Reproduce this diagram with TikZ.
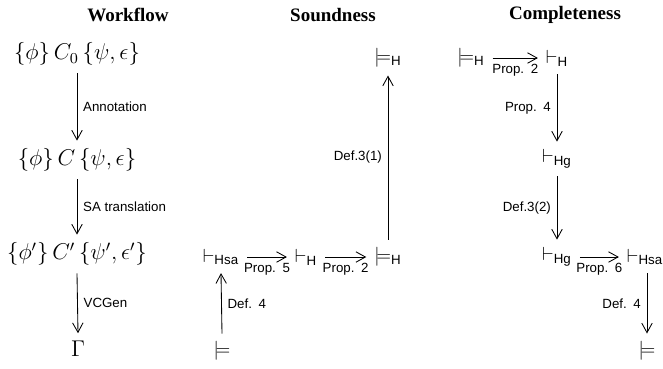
\documentclass[tikz,border=0pt]{standalone}
\usepackage{amsmath,amssymb}
\usepackage{fontspec}
\newfontfamily\titlefont{Liberation Serif}
\newfontfamily\labelfont{Liberation Sans}
\usepackage{tikz}
\usetikzlibrary{arrows.meta, positioning}

\newcommand{\sys}[1]{\text{\labelfont #1}}

\begin{document}
\begin{tikzpicture}[
    x=0.526pt, y=-0.526pt,
    colhead/.style={font=\titlefont\bfseries},
    stmt/.style={inner sep=4pt},
    prog/.style={stmt, font=\large},
    flow/.style={line width=0.45pt, -{Straight Barb[length=5pt,width=5.5pt]}},
    lbl/.style={font=\labelfont\scriptsize, inner sep=3pt}
]
    \useasboundingbox (0,0) rectangle (663,368);

    % Column headings
    \node (wfhead) [colhead] at (128,15) {Workflow};
    \node (sdhead) [colhead] at (333,15) {Soundness};
    \node (cphead) [colhead] at (565,15) {Completeness};

    % Workflow
    \node (prog0) [prog] at (77,54)  {$\{\phi\}\,C_0\,\{\psi,\epsilon\}$};
    \node (prog1) [prog] at (77,160) {$\{\phi\}\,C\,\{\psi,\epsilon\}$};
    \node (prog2) [prog] at (77,254) {$\{\phi'\}\,C'\,\{\psi',\epsilon'\}$};
    \node (vcs)   [prog] at (78,349) {$\Gamma$};

    \draw [flow] (prog0.south) -- (prog1.north) node[midway, right, lbl] {Annotation};
    \draw [flow] (prog1.south) -- (prog2.north) node[midway, right, lbl] {SA translation};
    \draw [flow] (prog2.south) -- (vcs.north) node[midway, right, lbl] {VCGen};

    % Soundness
    \node (sdHsa)   [stmt] at (221,257) {$\vdash_{\sys{Hsa}}$};
    \node (sdval)   [stmt] at (222,351) {$\models$};
    \node (sdH)     [stmt] at (306,257) {$\vdash_{\sys{H}}$};
    \node (sdvalH)  [stmt] at (388,257) {$\models_{\sys{H}}$};
    \node (sdvalHt) [stmt] at (388,58)  {$\models_{\sys{H}}$};

    \draw [flow] (sdval.north) -- (sdHsa.south) node[midway, right, lbl] {Def.\enspace 4};
    \draw [flow] (sdHsa.east) -- (sdH.west) node[midway, below, lbl] {Prop.\enspace 5};
    \draw [flow] (sdH.east) -- (sdvalH.west) node[midway, below, lbl] {Prop.\enspace 2};
    \draw [flow] (sdvalH.north) -- (sdvalHt.south) node[midway, left, lbl] {Def.3(1)};

    % Completeness
    \node (cpvalH) [stmt] at (471,58)  {$\models_{\sys{H}}$};
    \node (cpH)    [stmt] at (557,58)  {$\vdash_{\sys{H}}$};
    \node (cpHg1)  [stmt] at (557,159) {$\vdash_{\sys{Hg}}$};
    \node (cpHg2)  [stmt] at (557,257) {$\vdash_{\sys{Hg}}$};
    \node (cpHsa)  [stmt] at (645,257) {$\vdash_{\sys{Hsa}}$};
    \node (cpval)  [stmt] at (647,351) {$\models$};

    \draw [flow] (cpvalH.east) -- (cpH.west) node[midway, below, lbl] {Prop.\enspace 2};
    \draw [flow] (cpH.south) -- (cpHg1.north) node[midway, left, lbl] {Prop.\enspace 4};
    \draw [flow] (cpHg1.south) -- (cpHg2.north) node[midway, left, lbl] {Def.3(2)};
    \draw [flow] (cpHg2.east) -- (cpHsa.west) node[midway, below, lbl] {Prop.\enspace 6};
    \draw [flow] (cpHsa.south -| cpval.north) -- (cpval.north) node[midway, left, lbl] {Def.\enspace 4};

\end{tikzpicture}
\end{document}
